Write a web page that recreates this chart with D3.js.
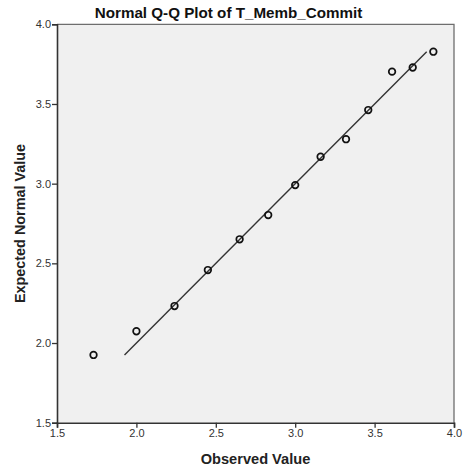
<!DOCTYPE html>
<html>
<head>
<meta charset="utf-8">
<script src="https://cdn.jsdelivr.net/npm/d3@7"></script>
<style>
  html, body { margin: 0; padding: 0; background: #fff; }
  svg { display: block; font-family: "Liberation Sans", Arial, sans-serif; }
</style>
</head>
<body>
<svg id="chart" width="465" height="475"></svg>
<script>
// Observed values of T_Memb_Commit and their expected normal quantiles
const observed = [1.73, 2.00, 2.24, 2.45, 2.65, 2.83, 3.00, 3.16, 3.32, 3.46, 3.61, 3.74, 3.87];
const expected = [1.925, 2.074, 2.232, 2.458, 2.651, 2.803, 2.991, 3.169, 3.279, 3.462, 3.703, 3.729, 3.828];
const xTicks = [1.5, 2.0, 2.5, 3.0, 3.5, 4.0];
const yTicks = [1.5, 2.0, 2.5, 3.0, 3.5, 4.0];
const titleText = "Normal Q-Q Plot of T_Memb_Commit";
const xTitle = "Observed Value";
const yTitle = "Expected Normal Value";

const svg = d3.select("#chart");
const m = { left: 57, right: 454, top: 24.3, bottom: 422.7 };

const x = d3.scaleLinear().domain([1.5, 4.0]).range([m.left, m.right]);
const y = d3.scaleLinear().domain([1.5, 4.0]).range([m.bottom, m.top]);

// plot background
svg.append("rect")
  .attr("x", m.left).attr("y", m.top)
  .attr("width", m.right - m.left).attr("height", m.bottom - m.top)
  .attr("fill", "#f0f0f0");

// top and right frame
svg.append("path")
  .attr("d", `M${m.left},${m.top}H${m.right}V${m.bottom}`)
  .attr("fill", "none").attr("stroke", "#6e6e6e").attr("stroke-width", 1.3);

// axes
const xAxis = svg.append("g")
  .attr("transform", `translate(0,${m.bottom})`)
  .call(d3.axisBottom(x).tickValues(xTicks).tickFormat(d3.format(".1f")).tickSize(5).tickPadding(2));
const yAxis = svg.append("g")
  .attr("transform", `translate(${m.left},0)`)
  .call(d3.axisLeft(y).tickValues(yTicks).tickFormat(d3.format(".1f")).tickSize(5).tickPadding(1));

[xAxis, yAxis].forEach(g => {
  g.select(".domain").attr("stroke", "#333").attr("stroke-width", 1.6);
  g.selectAll(".tick line").attr("stroke", "#333").attr("stroke-width", 1.3);
  g.selectAll(".tick text")
    .attr("fill", "#333")
    .style("font-size", "11px")
    .style("font-family", "'Liberation Sans', Arial, sans-serif");
});

// reference line y = x across the range of expected values
const lo = d3.min(expected), hi = d3.max(expected);
svg.append("line")
  .attr("x1", x(lo)).attr("y1", y(lo))
  .attr("x2", x(hi)).attr("y2", y(hi))
  .attr("stroke", "#333").attr("stroke-width", 1.4);

// points
svg.append("g").selectAll("circle")
  .data(observed.map((v, i) => ({ o: v, e: expected[i] })))
  .join("circle")
  .attr("cx", d => x(d.o))
  .attr("cy", d => y(d.e))
  .attr("r", 3.3)
  .attr("fill", "none")
  .attr("stroke", "#111")
  .attr("stroke-width", 1.7);

// titles
svg.append("text")
  .attr("x", 228.5).attr("y", 18)
  .attr("text-anchor", "middle")
  .style("font-size", "15.2px").style("font-weight", "bold")
  .attr("fill", "#111")
  .text(titleText);

svg.append("text")
  .attr("x", (m.left + m.right) / 2).attr("y", 464)
  .attr("text-anchor", "middle")
  .style("font-size", "14.6px").style("font-weight", "bold")
  .attr("fill", "#222")
  .text(xTitle);

svg.append("text")
  .attr("transform", `translate(24.5,${(m.top + m.bottom) / 2}) rotate(-90)`)
  .attr("text-anchor", "middle")
  .style("font-size", "14.4px").style("font-weight", "bold")
  .attr("fill", "#222")
  .text(yTitle);
</script>
</body>
</html>
